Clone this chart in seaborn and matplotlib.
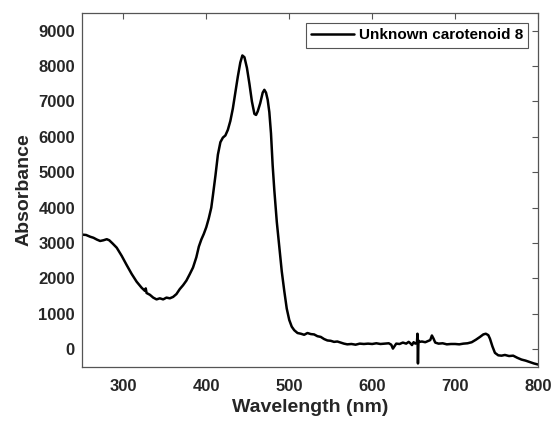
import matplotlib
matplotlib.use("Agg")
import matplotlib.pyplot as plt
import seaborn as sns
import pandas as pd

wavelength = [250, 255, 260, 264, 268, 272, 276, 280, 283, 287, 292, 298, 304, 310, 316, 322, 326, 327, 328,
              332, 336, 340, 344, 348, 352, 356, 360, 364, 368, 372, 376, 380, 384, 388, 391, 394, 397, 400,
              403, 406, 408, 411, 414, 417, 420, 423, 426, 429, 432, 435, 438, 441, 443.5, 446, 449, 452, 455,
              458, 460, 462, 465, 468, 470, 472, 474, 476, 478, 480, 482, 485, 488, 491, 494, 497, 500, 503,
              506, 510, 514, 518, 522, 526, 530, 534, 538, 542, 546, 550, 554, 558, 562, 566, 570, 575, 580,
              585, 590, 595, 600, 605, 610, 615, 620, 623, 625, 627, 629, 633, 637, 641, 644, 646, 648, 650,
              652, 654, 654.6, 655.2, 655.8, 657, 660, 664, 667, 670, 672, 674, 676, 680, 685, 690, 695, 700,
              705, 710, 715, 720, 725, 730, 734, 737, 740, 742, 745, 748, 752, 756, 760, 765, 770, 775, 780,
              785, 790, 795, 800]
absorbance = [3240, 3230, 3180, 3150, 3100, 3060, 3080, 3110, 3080, 2990, 2870, 2640, 2380, 2130, 1910, 1740,
              1650, 1720, 1590, 1540, 1460, 1410, 1440, 1410, 1460, 1440, 1480, 1560, 1700, 1810, 1940, 2120,
              2310, 2600, 2900, 3100, 3260, 3450, 3700, 4000, 4350, 4900, 5500, 5850, 5980, 6040, 6200, 6450,
              6800, 7250, 7700, 8100, 8300, 8250, 7950, 7500, 7000, 6650, 6620, 6720, 6950, 7250, 7330, 7250,
              7050, 6700, 6100, 5200, 4500, 3600, 2900, 2200, 1650, 1150, 830, 640, 540, 460, 440, 410, 460,
              430, 420, 370, 350, 290, 250, 240, 210, 220, 190, 160, 140, 150, 130, 160, 150, 160, 150, 170,
              150, 160, 170, 130, 20, 90, 160, 150, 190, 160, 210, 170, 120, 200, 160, 200, 440, -400, 250,
              210, 220, 200, 230, 260, 390, 300, 190, 160, 170, 140, 150, 150, 140, 160, 170, 200, 270, 350,
              420, 440, 400, 300, 80, -100, -170, -180, -160, -190, -180, -240, -290, -320, -360, -400, -430]
series_label = "Unknown carotenoid 8"
x_ticks = [300, 400, 500, 600, 700, 800]
y_ticks = [0, 1000, 2000, 3000, 4000, 5000, 6000, 7000, 8000, 9000]

df = pd.DataFrame({"Wavelength (nm)": wavelength, "Absorbance": absorbance, "series": series_label})

sns.set_style("white")
plt.rcParams["font.family"] = ["Liberation Sans", "DejaVu Sans"]
plt.rcParams["font.weight"] = "bold"

txt = "#262626"
fig = plt.figure(figsize=(5.57, 4.26), dpi=100)
ax = fig.add_axes([0.147, 0.1385, 0.819, 0.831])
sns.lineplot(data=df, x="Wavelength (nm)", y="Absorbance", hue="series", palette=["black"],
             sort=False, estimator=None, linewidth=1.8, ax=ax)

ax.set_xlim(250, 800)
ax.set_ylim(-500, 9500)
ax.set_xticks(x_ticks)
ax.set_yticks(y_ticks)
ax.tick_params(direction="in", length=4, width=0.8, color="#555555", top=True, right=True,
               labelsize=12, labelcolor=txt)
ax.tick_params(axis="x", pad=9)
ax.tick_params(axis="y", pad=5)
for lab in ax.get_xticklabels() + ax.get_yticklabels():
    lab.set_fontweight("bold")
for s in ax.spines.values():
    s.set_color("#555555")
    s.set_linewidth(0.9)
ax.set_xlabel("Wavelength (nm)", fontsize=14, fontweight="bold", color=txt, labelpad=3)
ax.set_ylabel("Absorbance", fontsize=14, fontweight="bold", color=txt, labelpad=4)

leg = ax.legend(loc="upper right", handlelength=2.8, handletextpad=0.3,
                borderaxespad=0.65, fancybox=False, framealpha=1, edgecolor="#555555",
                borderpad=0.35, prop={"weight": "bold", "size": 11})
leg.get_frame().set_linewidth(0.8)
for t in leg.get_texts():
    t.set_color("black")
for l in leg.get_lines():
    l.set_linewidth(1.8)

fig.savefig("out.png", dpi=100)
